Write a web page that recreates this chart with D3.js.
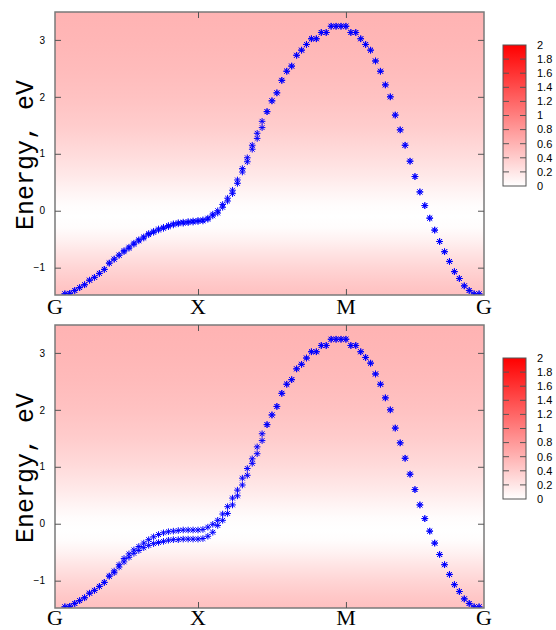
<!DOCTYPE html>
<html>
<head>
<meta charset="utf-8">
<script src="https://cdn.jsdelivr.net/npm/d3@7"></script>
<style>
  html, body { margin: 0; padding: 0; background: #ffffff; }
  svg { display: block; }
</style>
</head>
<body>
<svg id="chart" width="556" height="630"></svg>
<script>
// k-path: point index along G-X-M-G and the high-symmetry labels
const kTickPos = [0, 29, 59, 87];
const kTickLabels = ["G", "X", "M", "G"];
const energyTicks = [-1, 0, 1, 2, 3];
const colorTicks = [0, 0.2, 0.4, 0.6, 0.8, 1, 1.2, 1.4, 1.6, 1.8, 2];
const colorTickLabels = ["0", "0.2", "0.4", "0.6", "0.8", "1", "1.2", "1.4", "1.6", "1.8", "2"];
const yTitle = "Energy, eV";

// background map: value (colour-bar units) as a function of energy
const bgEnergy = [-1.5, -1.25, -1.0, -0.75, -0.5, -0.3, -0.1, 0.1, 0.3, 0.6, 1.0, 1.5, 2.0, 2.5, 3.0, 3.5];
const bgValue  = [0.50, 0.42, 0.33, 0.22, 0.10, 0.02, 0.0, 0.02, 0.08, 0.17, 0.28, 0.40, 0.48, 0.53, 0.57, 0.60];

// upper panel: two nearly degenerate bands
const topBandA = [
  -1.52, -1.49, -1.46, -1.45, -1.40, -1.35, -1.30, -1.22, -1.17, -1.10,
  -1.03, -0.92, -0.85, -0.78, -0.70, -0.64, -0.57, -0.51, -0.46, -0.40,
  -0.36, -0.32, -0.29, -0.26, -0.23, -0.21, -0.20, -0.19, -0.18, -0.17,
  -0.16, -0.13, -0.06, 0.00, 0.11, 0.22, 0.36, 0.54, 0.74, 0.93,
  1.15, 1.36, 1.57, 1.74, 1.93, 2.07, 2.29, 2.45, 2.54, 2.73,
  2.82, 2.92, 3.02, 3.02, 3.13, 3.13, 3.24, 3.24, 3.24, 3.24,
  3.13, 3.13, 3.02, 2.92, 2.82, 2.63, 2.45, 2.21, 2.00, 1.68,
  1.42, 1.15, 0.87, 0.60, 0.33, 0.09, -0.13, -0.34, -0.54, -0.72,
  -0.89, -1.07, -1.19, -1.32, -1.40, -1.46, -1.46, -1.50
];
const topBandB = [
  -1.52, -1.49, -1.46, -1.45, -1.40, -1.35, -1.30, -1.22, -1.17, -1.10,
  -1.03, -0.92, -0.85, -0.78, -0.72, -0.66, -0.59, -0.53, -0.48, -0.42,
  -0.38, -0.34, -0.31, -0.28, -0.25, -0.23, -0.22, -0.21, -0.20, -0.19,
  -0.18, -0.15, -0.09, -0.04, 0.06, 0.17, 0.30, 0.48, 0.68, 0.86,
  1.08, 1.27, 1.46, 1.74, 1.93, 2.07, 2.29, 2.45, 2.54, 2.73,
  2.82, 2.92, 3.02, 3.02, 3.13, 3.13, 3.24, 3.24, 3.24, 3.24,
  3.13, 3.13, 3.02, 2.92, 2.82, 2.63, 2.45, 2.21, 2.00, 1.68,
  1.42, 1.15, 0.87, 0.60, 0.33, 0.09, -0.13, -0.34, -0.54, -0.72,
  -0.89, -1.07, -1.19, -1.32, -1.40, -1.46, -1.46, -1.50
];

// lower panel: the pair splits along G-X
const bottomBandA = [
  -1.52, -1.49, -1.46, -1.45, -1.40, -1.35, -1.30, -1.22, -1.17, -1.10,
  -1.03, -0.92, -0.83, -0.72, -0.61, -0.53, -0.46, -0.40, -0.34, -0.28,
  -0.23, -0.19, -0.16, -0.14, -0.13, -0.12, -0.11, -0.11, -0.11, -0.11,
  -0.10, -0.06, -0.01, 0.06, 0.17, 0.30, 0.45, 0.59, 0.80, 0.97,
  1.14, 1.35, 1.58, 1.74, 1.91, 2.06, 2.29, 2.45, 2.53, 2.72,
  2.80, 2.91, 3.02, 3.02, 3.13, 3.13, 3.24, 3.24, 3.24, 3.24,
  3.13, 3.13, 3.02, 2.92, 2.82, 2.63, 2.45, 2.21, 2.00, 1.68,
  1.42, 1.15, 0.87, 0.60, 0.33, 0.09, -0.13, -0.34, -0.54, -0.72,
  -0.89, -1.07, -1.19, -1.32, -1.40, -1.46, -1.46, -1.50
];
const bottomBandB = [
  -1.52, -1.49, -1.46, -1.45, -1.40, -1.35, -1.30, -1.22, -1.17, -1.10,
  -1.03, -0.92, -0.86, -0.76, -0.67, -0.59, -0.52, -0.47, -0.42, -0.38,
  -0.35, -0.33, -0.31, -0.29, -0.28, -0.28, -0.27, -0.27, -0.27, -0.27,
  -0.26, -0.22, -0.15, -0.03, 0.06, 0.18, 0.33, 0.49, 0.68, 0.85,
  1.06, 1.23, 1.46, 1.74, 1.91, 2.06, 2.29, 2.45, 2.53, 2.72,
  2.80, 2.91, 3.02, 3.02, 3.13, 3.13, 3.24, 3.24, 3.24, 3.24,
  3.13, 3.13, 3.02, 2.92, 2.82, 2.63, 2.45, 2.21, 2.00, 1.68,
  1.42, 1.15, 0.87, 0.60, 0.33, 0.09, -0.13, -0.34, -0.54, -0.72,
  -0.89, -1.07, -1.19, -1.32, -1.40, -1.46, -1.46, -1.50
];

const panels = [
  { offsetY: 0,   labelY: 314, bands: [topBandA, topBandB] },
  { offsetY: 313, labelY: 312, bands: [bottomBandA, bottomBandB] }
];

const svg = d3.select("#chart");
const plot = { left: 55, right: 484, top: 12, bottom: 295 };
const eDomain = [-1.48, 3.49];

const x = d3.scaleLinear().domain([0, 87]).range([plot.left, plot.right]);
const y = d3.scaleLinear().domain(eDomain).range([plot.bottom, plot.top]);
const heat = d3.scaleLinear().domain([0, 2]).range(["#ffffff", "#ff0000"]).interpolate(d3.interpolateRgb);
const cbY = d3.scaleLinear().domain([0, 2]).range([186, 45]);
const cbX0 = 503, cbX1 = 526;

const defs = svg.append("defs");

// background gradient along energy
const bg = defs.append("linearGradient")
  .attr("id", "bgGrad")
  .attr("gradientUnits", "userSpaceOnUse")
  .attr("x1", 0).attr("x2", 0)
  .attr("y1", y(bgEnergy[0])).attr("y2", y(bgEnergy[bgEnergy.length - 1]));
bgEnergy.forEach((e, i) => {
  bg.append("stop")
    .attr("offset", (e - bgEnergy[0]) / (bgEnergy[bgEnergy.length - 1] - bgEnergy[0]))
    .attr("stop-color", heat(bgValue[i]));
});

// colour-bar gradient
const cb = defs.append("linearGradient")
  .attr("id", "cbGrad")
  .attr("x1", 0).attr("x2", 0).attr("y1", 1).attr("y2", 0);
cb.append("stop").attr("offset", 0).attr("stop-color", heat(0));
cb.append("stop").attr("offset", 1).attr("stop-color", heat(2));

defs.append("clipPath").attr("id", "plotClip")
  .append("rect")
  .attr("x", plot.left).attr("y", plot.top)
  .attr("width", plot.right - plot.left).attr("height", plot.bottom - plot.top);

const star = "M-3.3,0H3.3M0,-3.3V3.3M-2.4,-2.4L2.4,2.4M-2.4,2.4L2.4,-2.4";
const labelFont = "'Liberation Serif', 'Times New Roman', serif";
const monoFont = "'Liberation Mono', 'Courier New', monospace";
const sansFont = "'Liberation Sans', Arial, sans-serif";

panels.forEach(p => {
  const g = svg.append("g").attr("transform", `translate(0,${p.offsetY})`);

  g.append("rect")
    .attr("x", plot.left).attr("y", plot.top)
    .attr("width", plot.right - plot.left).attr("height", plot.bottom - plot.top)
    .attr("fill", "url(#bgGrad)");

  // band points
  const pts = g.append("g").attr("clip-path", "url(#plotClip)");
  p.bands.forEach(band => {
    pts.selectAll(null)
      .data(band.map((e, i) => ({ k: i, e })).filter(d => d.e >= eDomain[0] && d.e <= eDomain[1]))
      .join("path")
      .attr("d", star)
      .attr("transform", d => `translate(${x(d.k)},${y(d.e)})`)
      .attr("fill", "none")
      .attr("stroke", "#0000ff")
      .attr("stroke-width", 1);
  });

  // frame
  g.append("rect")
    .attr("x", plot.left).attr("y", plot.top)
    .attr("width", plot.right - plot.left).attr("height", plot.bottom - plot.top)
    .attr("fill", "none").attr("stroke", "#7a7a7a").attr("stroke-width", 1.5);

  // energy axis (left) and mirrored ticks (right)
  const yAxis = d3.axisLeft(y).tickValues(energyTicks).tickSizeInner(-6).tickSizeOuter(0).tickPadding(10)
    .tickFormat(d3.format("d"));
  const ya = g.append("g").attr("transform", `translate(${plot.left},0)`).call(yAxis);
  ya.select(".domain").remove();
  ya.selectAll("line").attr("stroke", "#555");
  ya.selectAll("text").attr("font-family", sansFont).attr("font-size", 10).attr("fill", "#000");

  const yAxisR = d3.axisRight(y).tickValues(energyTicks).tickSizeInner(-6).tickSizeOuter(0).tickFormat("");
  const yr = g.append("g").attr("transform", `translate(${plot.right},0)`).call(yAxisR);
  yr.select(".domain").remove();
  yr.selectAll("line").attr("stroke", "#555");

  // k axis: ticks at interior high-symmetry points, labels at all
  const innerK = kTickPos.slice(1, -1);
  const xb = g.append("g").attr("transform", `translate(0,${plot.bottom})`)
    .call(d3.axisBottom(x).tickValues(innerK).tickSizeInner(-6).tickSizeOuter(0).tickFormat(""));
  xb.select(".domain").remove();
  xb.selectAll("line").attr("stroke", "#555");
  const xt = g.append("g").attr("transform", `translate(0,${plot.top})`)
    .call(d3.axisTop(x).tickValues(innerK).tickSizeInner(-6).tickSizeOuter(0).tickFormat(""));
  xt.select(".domain").remove();
  xt.selectAll("line").attr("stroke", "#555");

  g.selectAll(null)
    .data(kTickPos)
    .join("text")
    .attr("x", d => x(d))
    .attr("y", p.labelY)
    .attr("text-anchor", "middle")
    .attr("font-family", labelFont)
    .attr("font-size", 22)
    .attr("fill", "#000")
    .text((d, i) => kTickLabels[i]);

  g.append("text")
    .attr("transform", `translate(33,155) rotate(-90)`)
    .attr("text-anchor", "middle")
    .attr("font-family", monoFont)
    .attr("font-size", 25)
    .attr("fill", "#000")
    .text(yTitle);

  // colour bar
  const c = g.append("g");
  c.append("rect")
    .attr("x", cbX0).attr("y", cbY(2))
    .attr("width", cbX1 - cbX0).attr("height", cbY(0) - cbY(2))
    .attr("fill", "url(#cbGrad)");
  const inner = colorTicks.slice(1, -1);
  c.selectAll(null).data(inner).join("line")
    .attr("x1", cbX0).attr("x2", cbX0 + 6)
    .attr("y1", d => cbY(d)).attr("y2", d => cbY(d))
    .attr("stroke", "#555").attr("stroke-width", 1);
  c.selectAll(null).data(inner).join("line")
    .attr("x1", cbX1 - 6).attr("x2", cbX1)
    .attr("y1", d => cbY(d)).attr("y2", d => cbY(d))
    .attr("stroke", "#555").attr("stroke-width", 1);
  c.append("rect")
    .attr("x", cbX0).attr("y", cbY(2))
    .attr("width", cbX1 - cbX0).attr("height", cbY(0) - cbY(2))
    .attr("fill", "none").attr("stroke", "#555").attr("stroke-width", 1);
  c.selectAll(null).data(colorTicks).join("text")
    .attr("x", 537)
    .attr("y", d => cbY(d))
    .attr("dy", "0.35em")
    .attr("font-family", sansFont)
    .attr("font-size", 11)
    .attr("fill", "#000")
    .text((d, i) => colorTickLabels[i]);
});
</script>
</body>
</html>
